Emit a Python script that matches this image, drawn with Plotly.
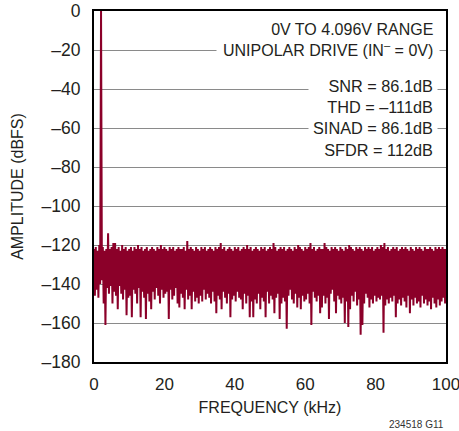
import plotly.graph_objects as go

# --- data ---------------------------------------------------------------
# Peak (top) values every 0.5 kHz starting at 0 kHz
tops_db = [
    -122, -121, -123, -120, 0, -121, -123, -122, -114, -122,
    -121, -119, -119, -122, -121, -123, -120, -122, -121, -123,
    -122, -121, -123, -121, -122, -120, -122, -121, -123, -122,
    -121, -123, -122, -121, -122, -123, -121, -122, -120, -122,
    -121, -122, -123, -121, -122, -121, -123, -122, -121, -122,
    -122, -121, -123, -118, -122, -121, -122, -123, -121, -122,
    -123, -121, -122, -121, -123, -122, -121, -122, -123, -121,
    -122, -121, -119, -122, -121, -123, -122, -121, -122, -123,
    -121, -122, -121, -123, -122, -121, -122, -120, -122, -121,
    -123, -122, -121, -122, -123, -121, -122, -121, -123, -122,
    -121, -122, -119, -121, -123, -122, -121, -122, -121, -123,
    -122, -121, -122, -123, -121, -122, -120, -121, -122, -123,
    -121, -122, -121, -119, -122, -121, -123, -122, -121, -122,
    -122, -119, -121, -122, -123, -121, -122, -121, -122, -123,
    -121, -122, -123, -121, -122, -120, -121, -122, -123, -121,
    -122, -121, -122, -123, -121, -122, -121, -122, -121, -123,
    -122, -121, -122, -120, -121, -119, -122, -121, -123, -122,
    -121, -122, -121, -123, -122, -121, -122, -121, -122, -123,
    -121, -122, -123, -121, -122, -121, -122, -123, -121, -122,
    -122, -121, -122, -123, -121, -122, -121, -122, -121, -122,
    -122,
]
# Valley (bottom) values every 0.5 kHz starting at 0.25 kHz
bottoms_db = [
    -146, -143, -147, -140, -138, -150, -161, -142, -145, -141,
    -150, -144, -146, -153, -141, -145, -148, -143, -156, -147,
    -146, -157, -143, -145, -150, -142, -157, -144, -147, -158,
    -145, -149, -153, -144, -148, -142, -146, -150, -143, -147,
    -145, -144, -158, -143, -148, -146, -142, -150, -152, -145,
    -147, -153, -143, -148, -146, -153, -144, -149, -147, -150,
    -146, -149, -143, -148, -145, -147, -150, -144, -149, -155,
    -146, -148, -153, -144, -147, -150, -145, -157, -148, -146,
    -149, -144, -147, -148, -153, -145, -150, -146, -157, -149,
    -157, -148, -150, -145, -153, -147, -149, -157, -144, -150,
    -146, -148, -155, -147, -145, -158, -150, -147, -149, -163,
    -146, -143, -148, -150, -145, -152, -147, -153, -146, -149,
    -148, -145, -150, -161, -144, -147, -149, -146, -155, -152,
    -146, -150, -147, -158, -145, -143, -149, -155, -146, -148,
    -150, -147, -160, -149, -162, -153, -146, -149, -144, -151,
    -148, -166, -161, -150, -145, -147, -152, -148, -150, -146,
    -149, -147, -148, -146, -165, -151, -148, -150, -147, -149,
    -146, -157, -150, -148, -151, -147, -149, -152, -146, -155,
    -148, -151, -147, -150, -149, -152, -146, -150, -148, -151,
    -149, -153, -147, -150, -152, -148, -151, -149, -147, -150,
]
bin_step_khz = 0.5
y_ticks = [0, -20, -40, -60, -80, -100, -120, -140, -160, -180]
y_tick_labels = ["0", "–20", "–40", "–60", "–80", "–100", "–120", "–140", "–160", "–180"]
x_ticks = [0, 20, 40, 60, 80, 100]
x_tick_labels = ["0", "20", "40", "60", "80", "100"]

# interleave peaks and valleys into one spectrum trace
freq, amp = [], []
for i, t in enumerate(tops_db):
    freq.append(i * bin_step_khz)
    amp.append(t)
    if i < len(bottoms_db):
        freq.append(i * bin_step_khz + bin_step_khz / 2)
        amp.append(bottoms_db[i])

FONT = "Liberation Sans, Arial, sans-serif"
TXT = "#231f20"

fig = go.Figure()
fig.add_trace(go.Scatter(x=freq, y=amp, mode="lines",
                         line=dict(color="#8b0029", width=2),
                         hoverinfo="skip", showlegend=False))

fig.update_layout(
    width=459, height=431,
    margin=dict(l=94, r=13, t=11, b=69),
    paper_bgcolor="white", plot_bgcolor="white",
    font=dict(family=FONT, size=17.5, color=TXT),
    xaxis=dict(range=[0, 100], tickvals=x_ticks, ticktext=x_tick_labels,
               showgrid=False, zeroline=False, showline=True, linecolor="black",
               linewidth=2, mirror=True, ticks="", ticklabelstandoff=6,
               ticklabeloverflow="allow", automargin=False,
               tickfont=dict(size=17),
               title=dict(text="FREQUENCY (kHz)", font=dict(size=16), standoff=8)),
    yaxis=dict(range=[-180, 0], tickvals=y_ticks, ticktext=y_tick_labels,
               showgrid=True, gridcolor="#8a8a8a", gridwidth=1,
               zeroline=False, showline=True, linecolor="black",
               linewidth=2, mirror=True, ticks="", ticklabelstandoff=8,
               automargin=False,
               title=dict(text="AMPLITUDE (dBFS)", font=dict(size=16), standoff=14)),
)

fig.add_annotation(xref="x", yref="y", x=98.2, y=-15.0, xanchor="right", yanchor="middle",
                   text="0V TO 4.096V RANGE<br>UNIPOLAR DRIVE (IN<sup>–</sup> = 0V)",
                   showarrow=False, align="right", bgcolor="white", borderpad=6,
                   font=dict(size=16, color=TXT))
fig.add_annotation(xref="x", yref="y", x=97.6, y=-55.0, xanchor="right", yanchor="middle",
                   text="SNR = 86.1dB<br>THD = –111dB<br>SINAD = 86.1dB<br>SFDR = 112dB",
                   showarrow=False, align="right", bgcolor="white", borderpad=4,
                   font=dict(size=16.3, color=TXT))
fig.add_annotation(xref="paper", yref="paper", x=1.0, y=-0.177, xanchor="right",
                   yanchor="middle", text="234518 G11", showarrow=False,
                   font=dict(size=10, color="#333333"))

fig.write_html("out.html")
